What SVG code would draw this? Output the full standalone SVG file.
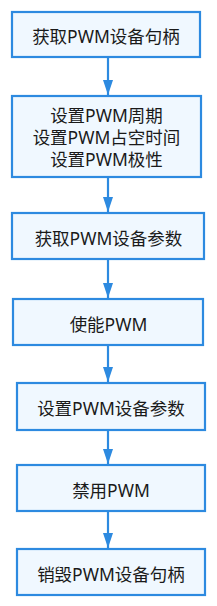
<svg xmlns="http://www.w3.org/2000/svg" width="217" height="606" viewBox="0 0 217 606">
<defs>
<style>
.box{fill:#f0f8ff;stroke:#2d8ae0;stroke-width:2.2}
.t{font-family:"Noto Sans","Noto Sans CJK SC",sans-serif;font-size:17.5px;fill:#1a1a1a;text-anchor:middle}
.c{stroke:#2d8ae0;stroke-width:2.2;fill:none;marker-end:url(#ah)}
</style>
<marker id="ah" markerUnits="userSpaceOnUse" markerWidth="15" markerHeight="10" refX="15" refY="5" orient="auto" viewBox="0 0 15 10">
<path d="M0,0 L15,5 L0,10 z" fill="#2d8ae0"/>
</marker>
</defs>
<rect width="217" height="606" fill="#ffffff"/>
<g id="connectors">
<line class="c" x1="108" y1="58" x2="108" y2="95"/>
<line class="c" x1="108" y1="178" x2="108" y2="212"/>
<line class="c" x1="108" y1="260" x2="108" y2="298"/>
<line class="c" x1="108" y1="346" x2="108" y2="382"/>
<line class="c" x1="108" y1="431" x2="108" y2="464"/>
<line class="c" x1="108" y1="512" x2="108" y2="548"/>
</g>
<g id="n1"><rect class="box" x="12" y="12" width="188" height="45"/><text class="t" x="106" y="43">获取PWM设备句柄</text></g>
<g id="n2"><rect class="box" x="12" y="96" width="189" height="81"/><text class="t" x="106.5" y="122">设置PWM周期</text><text class="t" x="106.5" y="144">设置PWM占空时间</text><text class="t" x="106.5" y="166">设置PWM极性</text></g>
<g id="n3"><rect class="box" x="12" y="213" width="192" height="46"/><text class="t" x="108.5" y="245">获取PWM设备参数</text></g>
<g id="n4"><rect class="box" x="13" y="299" width="190" height="46"/><text class="t" x="108.5" y="330.5">使能PWM</text></g>
<g id="n5"><rect class="box" x="17" y="383" width="188" height="47"/><text class="t" x="111" y="415">设置PWM设备参数</text></g>
<g id="n6"><rect class="box" x="17" y="465" width="188" height="46"/><text class="t" x="111" y="496.5">禁用PWM</text></g>
<g id="n7"><rect class="box" x="17" y="549" width="188" height="46"/><text class="t" x="111" y="580.5">销毁PWM设备句柄</text></g>
</svg>
